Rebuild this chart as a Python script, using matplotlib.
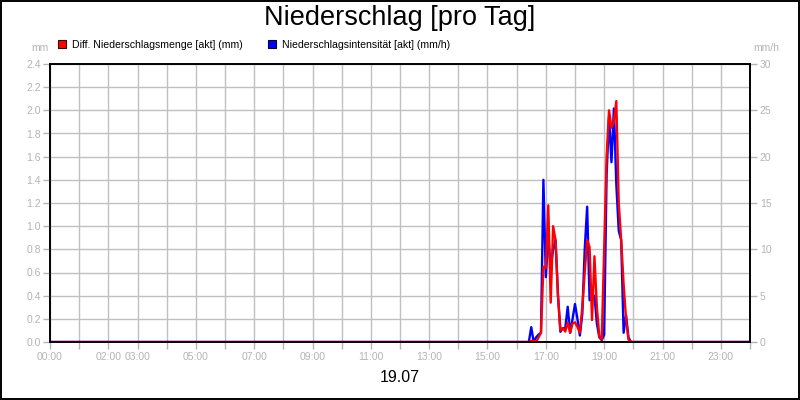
import matplotlib
matplotlib.use("Agg")
import matplotlib.pyplot as plt
from matplotlib.patches import Patch
from matplotlib.ticker import FixedLocator, MultipleLocator, FuncFormatter

plt.rcParams['font.family'] = ['Liberation Sans', 'DejaVu Sans']

title = "Niederschlag [pro Tag]"
date_label = "19.07"
label_red = "Diff. Niederschlagsmenge [akt] (mm)"
label_blue = "Niederschlagsintensität [akt] (mm/h)"

times = ["00:00", "16:20", "16:25", "16:30", "16:35", "16:40", "16:45", "16:50", "16:55",
         "17:00", "17:05", "17:10", "17:15", "17:20", "17:25", "17:30", "17:35", "17:40",
         "17:45", "17:50", "17:55", "18:00", "18:05", "18:10", "18:15", "18:20", "18:25",
         "18:30", "18:35", "18:40", "18:45", "18:50", "18:55", "19:00", "19:05", "19:10",
         "19:15", "19:20", "19:25", "19:30", "19:35", "19:40", "19:45", "19:50", "19:55",
         "20:00", "24:00"]
menge_mm = [0.0, 0.0, 0.0, 0.01, 0.01, 0.0, 0.04, 0.08, 0.65,
            0.64, 1.18, 0.34, 1.0, 0.88, 0.4, 0.1, 0.12, 0.09,
            0.17, 0.08, 0.16, 0.17, 0.13, 0.08, 0.3, 0.6, 0.88,
            0.82, 0.19, 0.74, 0.3, 0.05, 0.02, 0.8, 1.6, 2.0,
            1.85, 1.9, 2.08, 1.2, 0.88, 0.5, 0.2, 0.02, 0.0,
            0.0, 0.0]
intens_mmh = [0.0, 0.0, 0.0, 1.6, 0.0, 0.5, 0.8, 1.0, 17.5,
              7.0, 11.5, 8.0, 10.0, 11.0, 5.0, 1.1, 1.5, 1.5,
              3.8, 1.0, 2.5, 4.1, 2.5, 0.7, 3.0, 10.0, 14.6,
              4.5, 5.0, 5.0, 2.0, 0.5, 0.2, 0.8, 18.0, 24.3,
              19.4, 25.2, 17.0, 12.0, 11.0, 1.0, 2.9, 0.5, 0.0,
              0.0, 0.0]
xtick_labels = ["00:00", "02:00", "03:00", "05:00", "07:00", "09:00", "11:00",
                "13:00", "15:00", "17:00", "19:00", "21:00", "23:00"]

def to_h(s):
    h, m = s.split(":")
    return int(h) + int(m) / 60.0

x = [to_h(t) for t in times]
xtick_pos = [to_h(t) for t in xtick_labels]

grey = "#b4b4b4"
gridc = "#c0c0c0"

fig = plt.figure(figsize=(8, 4), dpi=100)
fig.patch.set_facecolor("white")
fig.add_artist(plt.Rectangle((0.0008, 0.0015), 0.998, 0.997, transform=fig.transFigure,
                             fill=False, edgecolor="black", linewidth=1.4))

ax = fig.add_axes([0.0625, 0.145, 0.875, 0.695])
ax2 = ax.twinx()
ax.set_zorder(ax2.get_zorder() + 1)
ax.patch.set_visible(False)
ax2.patch.set_facecolor("white")

ax2.plot(x, intens_mmh, color="#0000ff", linewidth=1.7, solid_joinstyle="round")
ax.plot(x, menge_mm, color="#ff0000", linewidth=1.7, solid_joinstyle="round")

ax.set_xlim(0, 24)
ax.set_ylim(0, 2.4)
ax2.set_ylim(0, 30)

ax.xaxis.set_major_locator(FixedLocator(xtick_pos))
ax.set_xticklabels(xtick_labels)
ax.xaxis.set_minor_locator(MultipleLocator(1))
ax.yaxis.set_major_locator(MultipleLocator(0.2))
ax.yaxis.set_major_formatter(FuncFormatter(lambda v, p: f"{v:.1f}"))
ax2.yaxis.set_major_locator(MultipleLocator(5))
ax2.yaxis.set_minor_locator(MultipleLocator(2.5))

# grid on the lower (twin) axes so it stays beneath both lines
ax2.xaxis.set_visible(True)
ax2.xaxis.set_major_locator(MultipleLocator(1))
ax2.tick_params(axis="x", which="both", length=0, labelbottom=False, labeltop=False)
ax2.grid(True, which="both", axis="y", color=gridc, linewidth=1.0)
ax2.grid(True, which="major", axis="x", color=gridc, linewidth=1.0)
ax2.set_axisbelow(True)

for a in (ax, ax2):
    for sp in a.spines.values():
        sp.set_color("black")
        sp.set_linewidth(1.2)

ax.tick_params(axis="both", which="both", colors=grey, labelcolor=grey, labelsize=7.5, width=1)
ax.tick_params(axis="x", which="both", length=5, pad=2)
ax.tick_params(axis="y", length=5, pad=1.5)
ax2.tick_params(axis="y", which="major", colors=grey, labelcolor=grey, labelsize=7.5,
                length=5, pad=2, width=1)
ax2.tick_params(axis="y", which="minor", length=0)

fig.text(0.5, 0.955, title, ha="center", va="center", fontsize=19.5, color="black")
fig.text(0.5, 0.055, date_label, ha="center", va="center", fontsize=11.5, color="black")
fig.text(0.061, 0.879, "mm", ha="right", va="center", fontsize=7.5, color=grey)
fig.text(0.941, 0.879, "mm/h", ha="left", va="center", fontsize=7.5, color=grey)

handles = [Patch(facecolor="#ff0000", edgecolor="#400000", linewidth=0.8, label=label_red),
           Patch(facecolor="#0000ff", edgecolor="#000040", linewidth=0.8, label=label_blue)]
fig.legend(handles=handles, loc="center left", bbox_to_anchor=(0.0725, 0.8875), ncol=2,
           frameon=False, fontsize=7.6, handlelength=0.8, handleheight=0.8,
           handletextpad=0.5, columnspacing=2.4, borderaxespad=0, borderpad=0)

fig.savefig("out.png", dpi=100)
